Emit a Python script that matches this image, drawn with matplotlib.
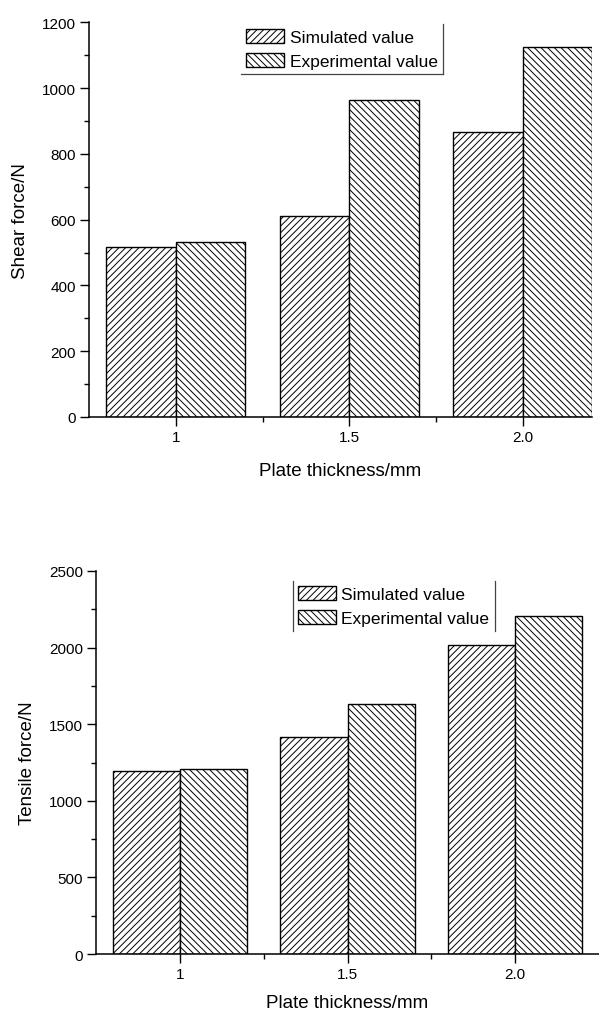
import numpy as np
import matplotlib.pyplot as plt
from matplotlib.ticker import MultipleLocator, FixedLocator
from matplotlib.lines import Line2D

plt.rcParams['font.family'] = ['Liberation Sans', 'DejaVu Sans']
plt.rcParams['hatch.linewidth'] = 0.7
plt.rcParams['hatch.color'] = '#222222'

thickness = ['1', '1.5', '2.0']
shear_sim = [517, 611, 866]
shear_exp = [532, 964, 1125]
tensile_sim = [1195, 1416, 2017]
tensile_exp = [1205, 1632, 2206]

fig = plt.figure(figsize=(5.99, 10.12), dpi=100)
ax1 = fig.add_axes([0.1486, 0.587, 0.840, 0.390])
ax2 = fig.add_axes([0.1603, 0.0563, 0.8397, 0.3785])

x = np.arange(len(thickness))
w = 0.4


def draw(ax, sim, exp, ymax, ystep, ylabel, xlim, ypad, xpad):
    ax.bar(x - w / 2, sim, w, color='white', edgecolor='black', linewidth=1.0,
           hatch='/////', label='Simulated value')
    ax.bar(x + w / 2, exp, w, color='white', edgecolor='black', linewidth=1.0,
           hatch='\\\\\\\\\\', label='Experimental value')
    ax.set_xlim(*xlim)
    ax.set_ylim(0, ymax)
    ax.set_xticks(x)
    ax.set_xticklabels(thickness)
    ax.xaxis.set_minor_locator(FixedLocator(x[:-1] + 0.5))
    ax.yaxis.set_major_locator(MultipleLocator(ystep))
    ax.yaxis.set_minor_locator(MultipleLocator(ystep / 2))
    for s in ['top', 'right']:
        ax.spines[s].set_visible(False)
    for s in ['left', 'bottom']:
        ax.spines[s].set_linewidth(1.1)
    ax.tick_params(which='major', direction='out', length=6.5, width=1.0,
                   labelsize=11, pad=3)
    ax.tick_params(which='minor', direction='out', length=3.5, width=1.0)
    ax.set_ylabel(ylabel, fontsize=13.5, labelpad=ypad)
    ax.set_xlabel('Plate thickness/mm', fontsize=13.5, labelpad=xpad)
    leg = ax.legend(fontsize=12.5, frameon=False, handlelength=2.2,
                    handleheight=0.86, handletextpad=0.3, labelspacing=0.45,
                    borderpad=0.3, borderaxespad=0, loc='upper left')
    return leg


leg1 = draw(ax1, shear_sim, shear_exp, 1200, 200, 'Shear force/N',
            (-0.5, 2.4), 9, 13)
leg2 = draw(ax2, tensile_sim, tensile_exp, 2500, 500, 'Tensile force/N',
            (-0.5, 2.5), 9, 9)
leg1.set_bbox_to_anchor((0.302, 0.995), transform=ax1.transAxes)
leg2.set_bbox_to_anchor((0.391, 0.975), transform=ax2.transAxes)

# Origin-style partial legend frames
fig.canvas.draw()
inv = fig.transFigure.inverted()
(x0, y0), (x1, y1) = inv.transform(leg1.get_window_extent().get_points())
fig.add_artist(Line2D([x1, x1], [y0, y1], color='#444444', lw=0.9))
fig.add_artist(Line2D([x0, x1], [y0, y0], color='#444444', lw=0.9))
(x0, y0), (x1, y1) = inv.transform(leg2.get_window_extent().get_points())
fig.add_artist(Line2D([x0, x0], [y0, y1], color='#444444', lw=0.9))
fig.add_artist(Line2D([x1, x1], [y0, y1], color='#444444', lw=0.9))

fig.savefig('out.png', dpi=100)
